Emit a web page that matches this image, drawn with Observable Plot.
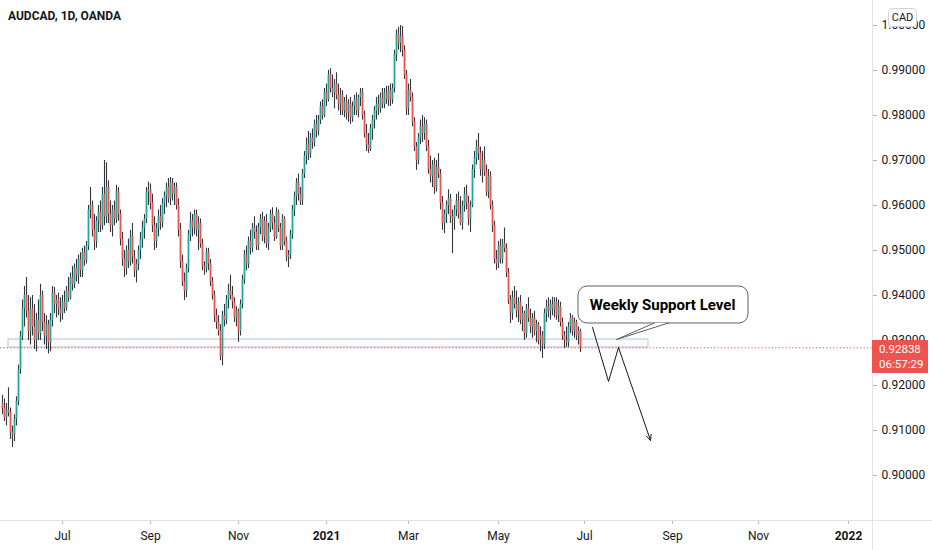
<!DOCTYPE html>
<html><head><meta charset="utf-8">
<script src="https://cdn.jsdelivr.net/npm/d3@7"></script>
<script src="https://cdn.jsdelivr.net/npm/@observablehq/plot@0.6"></script>
<style>
body{margin:0;background:#fff;font-family:Roboto,"Liberation Sans",sans-serif;}
#wrap{position:relative;width:932px;height:550px;overflow:hidden;}
#title{position:absolute;left:8px;top:9px;font:700 12px Roboto,sans-serif;color:#131722;}
#cad{position:absolute;left:888px;top:8px;width:27px;height:17px;border:1px solid #d1d4dc;border-radius:4px;background:#fff;font:11px Roboto,sans-serif;color:#131722;text-align:center;line-height:17px;}
#last{position:absolute;left:872px;width:56px;height:33px;background:#ef5350;color:#fff;font:11.5px Roboto,sans-serif;line-height:15px;box-sizing:border-box;padding:2px 0 0 7px;}
svg g[aria-label="y-axis tick"] path, svg g[aria-label="x-axis tick"] path{stroke:#b2b5be;}
</style></head><body>
<div id="wrap">
  <div id="title"></div>
  <div id="cad"></div>
  <div id="last"></div>
</div>
<script>
// ---------------- data ----------------
const title = "AUDCAD, 1D, OANDA";
const currency = "CAD";
const firstBarDate = "2020-05-20";          // daily (weekday) bars from this date
const priceScale = 10000;                    // values below are price x 10000
const open = [
9160,9150,9128,9145,9140,9095,9090,9125,9165,9235,
9310,9370,9400,9365,9320,9370,9330,9300,9345,9315,
9400,9340,9310,9335,9295,9345,9405,9380,9390,9370,
9360,9385,9372,9410,9395,9440,9425,9460,9445,9480,
9455,9495,9478,9510,9590,9600,9545,9520,9565,9585,
9555,9625,9575,9640,9580,9555,9590,9570,9630,9580,
9525,9480,9460,9500,9475,9530,9485,9455,9470,9500,
9525,9550,9570,9630,9635,9605,9555,9520,9550,9575,
9560,9605,9620,9640,9615,9650,9625,9640,9600,9545,
9475,9430,9410,9460,9535,9565,9550,9580,9545,9560,
9515,9465,9460,9495,9470,9430,9400,9355,9340,9320,
9265,9355,9345,9390,9410,9400,9385,9350,9365,9320,
9380,9435,9490,9470,9520,9505,9550,9540,9510,9550,
9570,9530,9565,9515,9550,9580,9560,9530,9585,9550,
9510,9570,9520,9485,9490,9535,9590,9620,9650,9625,
9610,9670,9710,9735,9715,9750,9740,9780,9765,9790,
9820,9800,9850,9835,9890,9860,9850,9870,9845,9825,
9845,9810,9830,9805,9825,9795,9820,9835,9810,9840,
9850,9800,9760,9735,9725,9770,9790,9810,9825,9815,
9840,9825,9850,9835,9855,9835,9860,9935,9980,9960,
9975,9945,9890,9815,9855,9840,9785,9730,9700,9750,
9775,9760,9780,9730,9680,9665,9690,9640,9685,9670,
9605,9560,9580,9600,9615,9575,9570,9590,9610,9580,
9560,9600,9625,9605,9570,9600,9680,9705,9730,9715,
9680,9700,9675,9630,9665,9600,9555,9480,9470,9510,
9480,9515,9505,9450,9390,9360,9395,9380,9365,9385,
9345,9360,9315,9370,9350,9330,9350,9320,9335,9300,
9310,9290,9360,9375,9365,9380,9370,9385,9355,9375,
9340,9310,9300,9295,9330,9350,9320,9340,9310,9320];
const high = [
9178,9170,9160,9195,9150,9110,9135,9175,9245,9320,
9390,9420,9440,9400,9395,9400,9380,9360,9390,9425,
9410,9360,9355,9345,9360,9420,9418,9400,9405,9395,
9400,9410,9420,9440,9450,9465,9470,9480,9490,9495,
9505,9510,9520,9600,9640,9610,9580,9575,9600,9610,
9640,9700,9695,9655,9610,9600,9610,9645,9640,9590,
9540,9500,9510,9525,9545,9560,9500,9480,9510,9540,
9565,9580,9640,9652,9648,9625,9575,9560,9590,9600,
9615,9630,9650,9660,9662,9660,9650,9650,9615,9560,
9490,9450,9470,9545,9585,9580,9590,9590,9575,9570,
9525,9475,9505,9505,9480,9440,9410,9370,9355,9335,
9365,9380,9400,9425,9445,9420,9395,9375,9370,9390,
9445,9500,9510,9530,9545,9560,9575,9555,9560,9580,
9585,9575,9580,9560,9590,9595,9575,9595,9590,9560,
9580,9575,9530,9500,9545,9600,9630,9660,9670,9640,
9680,9720,9750,9765,9760,9770,9790,9800,9800,9830,
9835,9860,9870,9900,9904,9890,9880,9895,9870,9860,
9855,9840,9845,9835,9840,9830,9845,9850,9845,9860,
9860,9810,9780,9760,9780,9800,9820,9840,9845,9850,
9860,9860,9865,9865,9870,9870,9945,9990,9996,10000,
9998,9955,9900,9870,9880,9850,9795,9740,9760,9790,
9800,9795,9790,9745,9710,9700,9705,9700,9715,9680,
9620,9590,9610,9635,9625,9590,9600,9625,9630,9620,
9610,9640,9645,9620,9610,9690,9720,9745,9760,9730,
9720,9730,9690,9680,9675,9610,9565,9500,9520,9525,
9525,9550,9515,9460,9400,9410,9420,9410,9395,9400,
9375,9365,9380,9395,9370,9360,9365,9345,9340,9330,
9320,9370,9390,9395,9390,9396,9395,9395,9390,9385,
9350,9320,9330,9340,9360,9355,9350,9345,9330,9325];
const low = [
9135,9120,9110,9130,9080,9062,9075,9110,9155,9225,
9300,9330,9350,9300,9290,9310,9280,9275,9300,9300,
9320,9290,9280,9270,9275,9330,9360,9350,9355,9340,
9345,9360,9365,9385,9390,9410,9415,9430,9425,9440,
9440,9465,9470,9500,9570,9530,9500,9505,9540,9540,
9545,9555,9560,9560,9540,9530,9555,9560,9565,9510,
9465,9440,9445,9460,9465,9470,9440,9428,9455,9480,
9505,9525,9560,9600,9590,9540,9500,9505,9530,9545,
9550,9580,9595,9605,9600,9610,9600,9590,9530,9460,
9420,9389,9395,9450,9520,9530,9535,9530,9500,9505,
9455,9445,9450,9455,9420,9390,9340,9325,9310,9255,
9244,9330,9335,9370,9390,9370,9340,9330,9296,9310,
9370,9425,9455,9460,9490,9495,9525,9500,9500,9535,
9520,9515,9505,9500,9540,9545,9520,9525,9540,9500,
9500,9510,9475,9462,9480,9525,9575,9600,9610,9600,
9600,9660,9690,9700,9705,9725,9730,9750,9755,9780,
9790,9795,9820,9830,9850,9840,9815,9835,9810,9800,
9800,9795,9790,9785,9780,9785,9800,9800,9795,9820,
9790,9750,9720,9716,9720,9745,9770,9790,9800,9805,
9815,9815,9825,9820,9820,9825,9850,9920,9945,9940,
9930,9880,9800,9800,9830,9775,9720,9678,9690,9735,
9740,9745,9720,9670,9650,9640,9625,9630,9660,9590,
9545,9538,9560,9580,9560,9493,9545,9575,9570,9555,
9545,9585,9590,9555,9540,9595,9660,9690,9700,9665,
9650,9665,9620,9615,9590,9540,9470,9456,9460,9470,
9470,9495,9440,9380,9338,9345,9370,9350,9340,9335,
9320,9300,9305,9340,9315,9305,9310,9295,9290,9275,
9260,9280,9340,9350,9345,9355,9350,9345,9340,9330,
9300,9282,9285,9285,9315,9310,9305,9300,9290,9273];
const close = [
9150,9128,9145,9140,9095,9090,9125,9165,9235,9310,
9370,9400,9365,9320,9370,9330,9300,9345,9315,9400,
9340,9310,9335,9295,9345,9405,9380,9390,9370,9360,
9385,9372,9410,9395,9440,9425,9460,9445,9480,9455,
9495,9478,9510,9590,9600,9545,9520,9565,9585,9555,
9625,9575,9640,9580,9555,9590,9570,9630,9580,9525,
9480,9460,9500,9475,9530,9485,9455,9470,9500,9525,
9550,9570,9630,9635,9605,9555,9520,9550,9575,9560,
9605,9620,9640,9615,9650,9625,9640,9600,9545,9475,
9430,9410,9460,9535,9565,9550,9580,9545,9560,9515,
9465,9460,9495,9470,9430,9400,9355,9340,9320,9265,
9355,9345,9390,9410,9400,9385,9350,9365,9320,9380,
9435,9490,9470,9520,9505,9550,9540,9510,9550,9570,
9530,9565,9515,9550,9580,9560,9530,9585,9550,9510,
9570,9520,9485,9490,9535,9590,9620,9650,9625,9610,
9670,9710,9735,9715,9750,9740,9780,9765,9790,9820,
9800,9850,9835,9890,9860,9850,9870,9845,9825,9845,
9810,9830,9805,9825,9795,9820,9835,9810,9840,9850,
9800,9760,9735,9725,9770,9790,9810,9825,9815,9840,
9825,9850,9835,9855,9835,9860,9935,9980,9960,9975,
9945,9890,9815,9855,9840,9785,9730,9700,9750,9775,
9760,9780,9730,9680,9665,9690,9640,9685,9670,9605,
9560,9580,9600,9615,9575,9570,9590,9610,9580,9560,
9600,9625,9605,9570,9600,9680,9705,9730,9715,9680,
9700,9675,9630,9665,9600,9555,9480,9470,9510,9480,
9515,9505,9450,9390,9360,9395,9380,9365,9385,9345,
9360,9315,9370,9350,9330,9350,9320,9335,9300,9310,
9290,9360,9375,9365,9380,9370,9385,9355,9375,9340,
9310,9300,9295,9330,9350,9320,9340,9310,9320,9283.8];
const lastPrice = 0.92838;
const countdown = "06:57:29";
const yTicks = [0.90,0.91,0.92,0.93,0.94,0.95,0.96,0.97,0.98,0.99,1.00];
const monthTicks = ["2020-07","2020-09","2020-11","2021-03","2021-05","2021-07","2021-09","2021-11"];
const monthNames = ["Jan","Feb","Mar","Apr","May","Jun","Jul","Aug","Sep","Oct","Nov","Dec"];
const yearTicks = ["2021-01","2022-01"];
// drawings (date, price)
const supportZone = [{from:"2020-05-25", to:"2021-08-16", lo:0.92844, hi:0.93022}];
const zigzag = [{d:"2021-07-07", p:0.9329},{d:"2021-07-19", p:0.9209},{d:"2021-07-26", p:0.92844}];
const arrowEnd = {d:"2021-08-17", p:0.9078};
const callout = {from:"2021-06-28", to:"2021-10-25", lo:0.93378, hi:0.9420, textDate:"2021-08-25", textP:0.9379, text:"Weekly Support Level"};
const calloutTail = [{d:"2021-08-19", p:0.9339},{d:"2021-07-23", p:0.93022},{d:"2021-08-30", p:0.9339}];

// ---------------- build ----------------
const days = [];
{
  const d = new Date(firstBarDate + "T00:00:00Z");
  const end = new Date("2022-02-01T00:00:00Z");
  while (d < end) { const w = d.getUTCDay(); if (w !== 0 && w !== 6) days.push(new Date(d)); d.setUTCDate(d.getUTCDate() + 1); }
}
const iso = d => d.toISOString().slice(0,10);
const idx = new Map(days.map((d,i)=>[iso(d), i]));
const K = s => idx.get(s);
const firstOfMonth = ym => days.findIndex(d => iso(d).slice(0,7) === ym);

const bars = close.map((c,i)=>({k:i, o:open[i]/priceScale, h:high[i]/priceScale, l:low[i]/priceScale, c:c/priceScale}));
const up = "#26a69a", down = "#ef5350";

const mTicks = monthTicks.map(firstOfMonth);
const yrTicks = yearTicks.map(firstOfMonth);
const tickLabel = new Map([
  ...monthTicks.map((m,i)=>[mTicks[i], monthNames[+m.slice(5)-1]]),
  ...yearTicks.map((m,i)=>[yrTicks[i], m.slice(0,4)])
]);

const zig = zigzag.map(z=>({x:K(z.d), y:z.p}));
const tail = calloutTail.map(z=>({x:K(z.d), y:z.p}));
const zone = supportZone.map(z=>({x1:K(z.from), x2:K(z.to), y1:z.lo, y2:z.hi}));

const plot = Plot.plot({
  width: 932, height: 550,
  marginLeft: 0, marginRight: 60, marginTop: 0, marginBottom: 30,
  style: {fontFamily: "Roboto, sans-serif", fontSize: "12px", color: "#131722", background: "#fff"},
  x: {type: "linear", domain: [-1, 435], axis: null},
  y: {type: "linear", domain: [0.89, 0.99 + 70/4500], axis: null},
  marks: [
    Plot.rect(zone, {x1:"x1", x2:"x2", y1:"y1", y2:"y2", fill:"#eef1f6", fillOpacity:0.35, stroke:"#bfc3cb", strokeWidth:1}),
    Plot.ruleY([lastPrice], {stroke: down, strokeWidth: 1, strokeDasharray: "1.2,2.2"}),
    Plot.ruleX(bars, {x:"k", y1:"l", y2:"h", stroke:"#33363f", strokeWidth:1.1}),
    Plot.ruleX(bars, {x:"k", y1:"o", y2:"c", stroke: d => d.c >= d.o ? up : down, strokeWidth:1.7}),
    Plot.line(zig, {x:"x", y:"y", stroke:"#131722", strokeWidth:1}),
    Plot.arrow([{x1: zig[2].x, y1: zig[2].y, x2: K(arrowEnd.d), y2: arrowEnd.p}], {x1:"x1", y1:"y1", x2:"x2", y2:"y2", stroke:"#131722", strokeWidth:1, headLength:9, headAngle:50}),
    Plot.rect([callout], {x1: d=>K(d.from), x2: d=>K(d.to), y1:"lo", y2:"hi", fill:"#fff", stroke:"#5d606b", strokeWidth:1, rx:9}),
    Plot.line(tail, {x:"x", y:"y", stroke:"#5d606b", strokeWidth:1, fill:"#fff"}),
    Plot.text([callout], {x: d=>K(d.textDate), y:"textP", text:"text", fontSize:15, fontWeight:"bold", fill:"#000", fontFamily:"Roboto, sans-serif"}),
    Plot.axisY(yTicks, {anchor:"right", tickSize:4, tickPadding:5, tickFormat: d => d.toFixed(5), fontSize:12}),
    Plot.axisX(mTicks, {anchor:"bottom", tickSize:4, tickPadding:7, tickFormat: k => tickLabel.get(k), fontSize:12}),
    Plot.axisX(yrTicks, {anchor:"bottom", tickSize:4, tickPadding:7, tickFormat: k => tickLabel.get(k), fontSize:12, fontWeight:"bold"})
  ]
});

const wrap = document.getElementById("wrap");
wrap.insertBefore(plot, wrap.firstChild);
plot.style.position = "absolute"; plot.style.left = "0"; plot.style.top = "0";

// chrome: pane borders (price scale separator and time scale separator)
const xs = plot.scale("x"), ys = plot.scale("y");
const sx = xs.apply(435), sy = ys.apply(0.89);
const svg = d3.select(plot);
svg.append("line").attr("x1", 0).attr("x2", 932).attr("y1", sy + 0.5).attr("y2", sy + 0.5).attr("stroke", "#e0e3eb");
svg.append("line").attr("x1", sx + 0.5).attr("x2", sx + 0.5).attr("y1", 0).attr("y2", 550).attr("stroke", "#e0e3eb");

document.getElementById("title").textContent = title;
document.getElementById("cad").textContent = currency;
const last = document.getElementById("last");
last.style.top = (ys.apply(lastPrice) - 7) + "px";
last.innerHTML = lastPrice.toFixed(5) + "<br>" + countdown;
</script>
</body></html>
